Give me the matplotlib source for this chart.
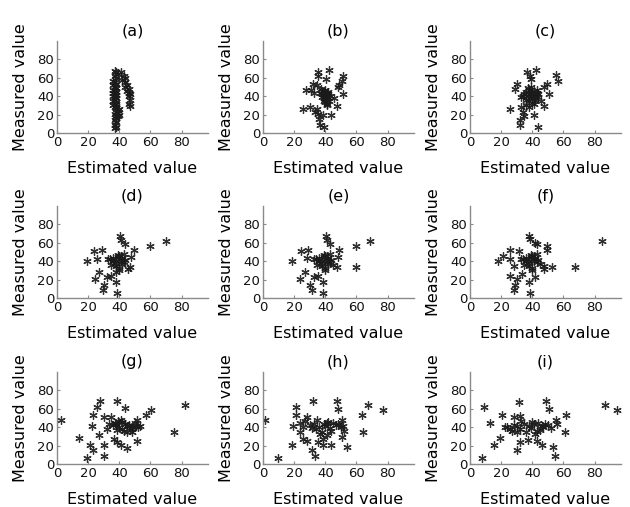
import matplotlib
matplotlib.use("Agg")
import matplotlib.pyplot as plt

# ------------------------------
# Data (estimated, measured)
# ------------------------------
a_est = [37, 38, 39, 37, 38, 36, 37, 38, 36, 37,
         38, 36, 37, 38, 36, 37, 38, 36, 37, 38,
         37, 36, 38, 37, 38, 36, 37, 38, 39, 38,
         39, 37, 38, 39, 38, 37, 38, 37, 38, 37,
         40, 40,
         41, 43, 44, 42, 44, 45, 44, 46, 45, 46,
         47, 46, 47, 46, 47]
a_meas = [67, 66, 64, 62, 60, 57, 55, 53, 52, 50,
          49, 47, 46, 45, 44, 42, 41, 40, 39, 38,
          36, 35, 34, 32, 31, 30, 28, 27, 25, 23,
          22, 21, 19, 18, 16, 14, 12, 9, 7, 5,
          26, 20,
          66, 62, 60, 58, 55, 52, 50, 48, 46, 44,
          42, 40, 36, 32, 29]

b_est = [35.5, 42.6, 35.5, 40.4, 51.2, 50.8, 49, 48, 31.8, 34.6,
         27.5, 30.8, 32.9, 51.2, 45.8, 47.5, 42.6, 25.4, 30.3, 34.6,
         35.5, 38.3, 43.7, 36, 36.8, 39.4, 33.3,
         37, 38, 39, 40, 41, 38, 39, 40, 41, 42,
         39, 40, 41, 40, 41, 39, 38, 42, 40, 37,
         41, 43]
b_meas = [66.7, 68.5, 62, 59, 62, 57, 52, 49.5, 53, 52,
          46.6, 46.6, 44, 42.3, 37.6, 29.7, 35, 26, 28, 26,
          20.8, 20, 20, 15.4, 8.2, 6.5, 22.6,
          48, 46, 45, 44, 43, 42, 41, 40, 39, 42,
          38, 37, 36, 34, 32, 35, 39, 45, 47, 44,
          30, 40]

c_est = [36.6, 42.4, 38.7, 39.1, 55.3, 56.8, 49.2, 47.3, 30, 28.8,
         50.5, 47.7, 25.8, 32.7, 33.8, 34.8, 41.3, 32.3, 32.3, 43.9,
         32.7, 45.6,
         35, 36, 37, 38, 39, 40, 41, 42, 43, 44,
         34, 36, 38, 40, 42, 44, 37, 39, 41, 43,
         38, 40, 36, 42, 39]
c_meas = [66.7, 68, 62, 58.4, 63, 57, 53, 50, 53.8, 47.7,
          42.3, 29.7, 26, 28, 22.6, 19, 20, 14.3, 8.2, 6.5,
          38.7, 35,
          42, 45, 40, 47, 43, 38, 46, 41, 44, 39,
          40, 36, 35, 33, 36, 42, 49, 50, 31, 47,
          28, 44, 30, 38, 40]

d_est = [40.4, 41.3, 43.4, 69.9, 59.6, 49.5, 47.3, 24, 29, 19,
         25.8, 26.9, 24.7, 32.3, 34.8, 37.6, 30.1, 29.7, 38.7, 37.6,
         46.8, 45.6,
         34, 36, 38, 40, 42, 44, 37, 39, 41, 43,
         35, 38, 40, 42, 39, 41, 36, 43, 33, 40]
d_meas = [67.4, 62.7, 59, 62, 56.6, 52, 44.8, 51, 52, 40.5,
          42.3, 28, 20.8, 22.6, 24.4, 28, 13.6, 8.2, 5.4, 17.2,
          33.3, 31.5,
          42, 44, 40, 46, 43, 41, 38, 45, 40, 48,
          36, 35, 33, 37, 47, 42, 40, 39, 42, 30]

e_est = [40.4, 40.9, 43, 68.8, 59.6, 59.6, 49, 48.4, 24.3, 29,
         18.7, 26.9, 24, 30, 31.2, 38.7, 38.7, 32.7, 35.5, 47.3,
         34, 36, 38, 40, 42, 44, 37, 39, 41, 43,
         35, 38, 40, 42, 39, 41, 36, 43, 33, 40,
         28, 45]
e_meas = [67.4, 62.7, 59, 62, 56.6, 33.3, 52, 44.8, 51, 52,
          40.5, 28, 20.8, 13.6, 8.2, 5.4, 17.2, 22.6, 24.4, 33.3,
          42, 44, 40, 46, 43, 41, 38, 45, 40, 48,
          36, 35, 33, 37, 47, 42, 40, 39, 42, 30,
          44, 36]

f_est = [37.6, 38.7, 41.5, 43, 85, 67.7, 52.7, 49.5, 49.5, 25.4,
         31.2, 18.3, 21.5, 25.8, 25.8, 30, 28.8, 28, 38.3, 37.6,
         33.3, 47.3, 47.3, 28, 42,
         34, 36, 38, 40, 42, 44, 37, 39, 41, 43,
         35, 38, 40, 45, 39, 41, 36, 43, 33, 40]
f_meas = [67.4, 63.8, 60, 58.4, 62, 33.3, 33.3, 56.6, 52, 52,
          51, 40.5, 46, 42.3, 24.4, 20.8, 13.6, 8.2, 5.4, 17.2,
          26, 31.5, 35, 35, 22.6,
          42, 44, 40, 46, 43, 41, 38, 45, 40, 48,
          36, 35, 33, 37, 47, 42, 40, 39, 42, 30]

g_est = [2.6, 14, 21.5, 23.2, 19.4, 30.5, 30.5, 27.5, 25.8, 23.2,
         22.6, 26.9, 38.7, 44, 57, 60.6, 82, 75.3, 51.2, 45.2,
         40.9, 36.6, 38.3, 30, 34.4, 33.3, 50.5, 51.6, 48.4, 31.8,
         38.7,
         36, 38, 40, 42, 44, 46, 48, 50, 52, 41,
         43, 45, 47, 39, 42, 44, 46, 49, 37, 53]
g_meas = [47.3, 28.4, 21, 15.3, 6.5, 9, 21, 69, 61.8, 53.8,
          41.8, 31, 68.4, 61, 53.8, 59, 63.6, 34.5, 25.5, 17.5,
          21, 27.3, 23.6, 51, 51.6, 43, 41.8, 47.3, 34.5, 38,
          37,
          42, 44, 40, 46, 43, 41, 38, 45, 40, 48,
          36, 35, 39, 47, 38, 44, 42, 40, 45, 41]

h_est = [1, 9.7, 18.9, 31.2, 33.3, 21, 31.8, 47.3, 48.4, 63.4,
         67.7, 77.4, 64, 54.2, 44, 38.3, 38.7, 35.5, 25.8, 28.4,
         21.5, 19.4, 23.7, 28, 23.7, 31.2, 36.6, 50.5, 51.6, 52,
         50.5, 41.3,
         30, 33, 36, 39, 42, 45, 48, 27, 34, 40,
         44, 47, 38, 41, 43, 35, 26, 50]
h_meas = [47.3, 6.5, 21, 15.3, 9, 62.5, 68, 69, 60, 53.8,
          63.6, 59, 34.5, 18, 21, 21, 27.3, 23.6, 27.3, 25.5,
          53.8, 41.8, 44.4, 51, 34.5, 39.3, 32.7, 47.3, 41.8, 36.4,
          29, 32,
          42, 44, 40, 43, 46, 45, 43, 47, 38, 41,
          36, 42, 35, 45, 39, 48, 40, 40]

i_est = [7.5, 9, 12.9, 15.5, 19.4, 20.4, 31.2, 30.5, 31.8, 37,
         49, 50.5, 61.7, 61.3, 53.3, 54.8, 46.2, 86.7, 94.6, 55.5,
         56, 28, 32.3, 22.6, 25.8, 30, 42, 43,
         24, 28, 32, 35, 38, 41, 44, 47, 50, 52,
         27, 33, 36, 40, 45, 48, 30, 39, 43, 46]
i_meas = [6.5, 62.5, 44.4, 21, 28.4, 53.8, 67.3, 15.3, 23.6, 26,
          69, 60, 53.8, 34.5, 18, 9, 21, 63.6, 59, 48,
          43, 51, 52.7, 40, 38, 34.5, 32.7, 25.5,
          40, 42, 38, 44, 41, 43, 45, 40, 42, 39,
          36, 47, 35, 46, 37, 44, 41, 39, 36, 41]

panel_titles = ["(a)", "(b)", "(c)", "(d)", "(e)", "(f)", "(g)", "(h)", "(i)"]
panel_est = [a_est, b_est, c_est, d_est, e_est, f_est, g_est, h_est, i_est]
panel_meas = [a_meas, b_meas, c_meas, d_meas, e_meas, f_meas, g_meas, h_meas, i_meas]
ticks = [0, 20, 40, 60, 80]

W, H = 630, 507
fig = plt.figure(figsize=(W / 100, H / 100), dpi=100)

# положение осей в пикселях (лево, низ сверху)
col_left = [57, 263, 470]
row_bottom = [133, 298, 464]
ax_w, ax_h = 151, 92

for k in range(9):
    r, c = divmod(k, 3)
    ax = fig.add_axes([col_left[c] / W, 1 - row_bottom[r] / H, ax_w / W, ax_h / H])
    ax.plot(panel_est[k], panel_meas[k], linestyle="none", marker=(6, 2, 0),
            markersize=6, markeredgewidth=0.9, color="#1a1a1a", alpha=0.9)
    ax.set_xlim(0, 97)
    ax.set_ylim(0, 100)
    ax.set_xticks(ticks)
    ax.set_yticks(ticks)
    for side in ["top", "right"]:
        ax.spines[side].set_visible(False)
    for side in ["left", "bottom"]:
        ax.spines[side].set_color("#8a8a8a")
        ax.spines[side].set_linewidth(1.0)
    ax.tick_params(direction="in", length=2, color="#8a8a8a", labelsize=9.5,
                   labelcolor="#111111", pad=2)
    ax.set_title(panel_titles[k], fontsize=11.5, pad=4)
    ax.set_xlabel("Estimated value", fontsize=11.5)
    ax.set_ylabel("Measured value", fontsize=11.5)
    ax.xaxis.set_label_coords(0.5, -0.3)
    ax.yaxis.set_label_coords(-0.19, 0.5)

fig.savefig("out.png", dpi=100)
